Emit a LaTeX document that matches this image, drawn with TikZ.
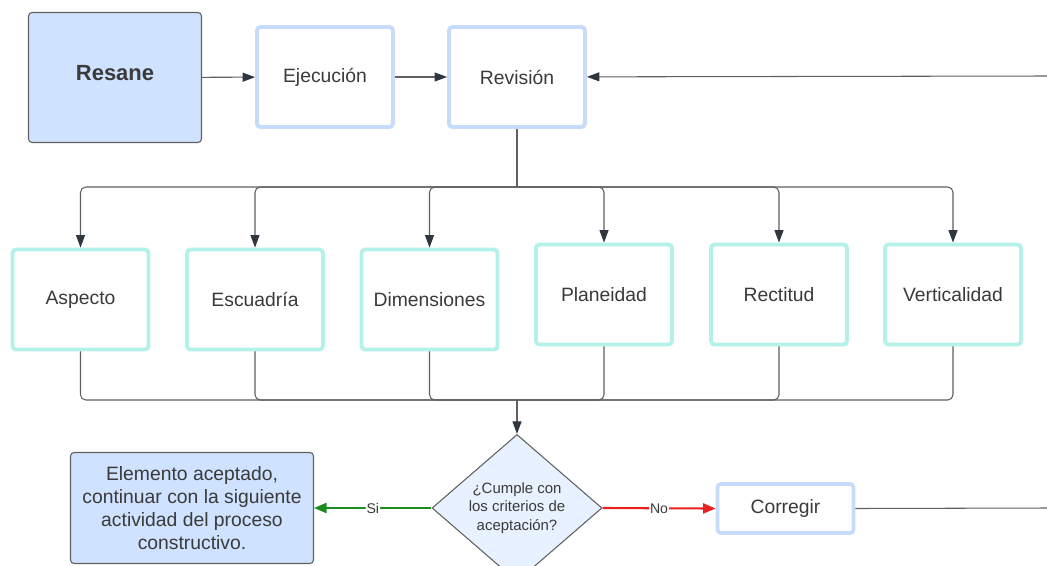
\documentclass[tikz,border=0pt]{standalone}
\usepackage{fontspec}
\setmainfont{Liberation Sans}
\usepackage{tikz}
\usetikzlibrary{shapes.geometric,arrows.meta}

\definecolor{fillblue}{HTML}{CFE2FF}
\definecolor{edgeblue}{HTML}{C7DCFC}
\definecolor{edgeteal}{HTML}{B4F1E8}
\definecolor{decfill}{HTML}{E8F1FF}
\definecolor{textgray}{HTML}{3A3A3A}
\definecolor{linegray}{HTML}{606060}
\definecolor{tipgray}{HTML}{2F3640}
\definecolor{sigreen}{HTML}{1C8C1C}
\definecolor{nored}{HTML}{E82020}

\begin{document}
\begin{tikzpicture}[x=0.02cm, y=-0.02cm,
    every node/.style={text=textgray, font=\fontsize{11}{13}\selectfont},
    startbox/.style={draw=linegray, line width=0.6pt, fill=fillblue, rounded corners=2pt,
        minimum width=3.46cm, minimum height=2.6cm, inner sep=0pt},
    stepbox/.style={draw=edgeblue, line width=2.2pt, fill=white, rounded corners=2pt,
        minimum width=2.72cm, minimum height=2.0cm, inner sep=0pt},
    checkbox/.style={draw=edgeteal, line width=2.2pt, fill=white, rounded corners=2pt,
        minimum width=2.72cm, minimum height=2.0cm, inner sep=0pt},
    decision/.style={diamond, draw=linegray, line width=0.6pt, fill=decfill, inner sep=0pt,
        minimum width=3.4cm, minimum height=2.4cm, align=center,
        font=\fontsize{8.5}{10.5}\selectfont},
    link/.style={draw=linegray, line width=0.6pt, rounded corners=3pt},
    arrow/.style={link, -{Triangle[length=2.5mm, width=1.8mm, color=tipgray]}},
    answer/.style={fill=white, inner sep=0.5pt, font=\fontsize{8}{9}\selectfont}
]
    \useasboundingbox (0,0) rectangle (1047,565);

    % Top row
    \node[startbox, font=\fontsize{12.5}{14}\selectfont\bfseries, text depth=5pt] (res) at (115,77.5) {Resane};
    \node[stepbox] (eje) at (325,77) {Ejecución};
    \node[stepbox] (rev) at (517,77) {Revisión};
    \coordinate (back) at (1047,76);

    \draw[arrow] (res) -- (eje);
    \draw[arrow] (eje) -- (rev);
    \draw[arrow] (back) -- (rev);

    % Checks
    \node[checkbox] (asp) at (80.5,299.5) {Aspecto};
    \node[checkbox] (esc) at (255,299.5) {Escuadría};
    \node[checkbox] (dim) at (429.5,299.5) {Dimensiones};
    \node[checkbox] (pla) at (604,294.5) {Planeidad};
    \node[checkbox] (rec) at (779,294.5) {Rectitud};
    \node[checkbox] (ver) at (953,294.5) {Verticalidad};

    \coordinate (split) at (517,187);
    \coordinate (join) at (517,400);
    \draw[link] (rev.south) -- (split);
    \foreach \n in {asp,esc,dim,pla,rec,ver} {
        \draw[arrow] (split) -| (\n.north);
        \draw[link] (\n.south) |- (join);
    }

    % Decision
    \node[decision] (dec) at (517,508) {¿Cumple con\\los criterios de\\aceptación?};
    \draw[arrow] (join) -- (dec.north);

    \node[startbox, minimum width=4.86cm, minimum height=2.22cm, align=center]
        (ok) at (192,508) {Elemento aceptado,\\continuar con la siguiente\\actividad del proceso\\constructivo.};
    \node[stepbox, minimum height=0.98cm] (cor) at (785.5,508.5) {Corregir};
    \coordinate (out) at (1047,508);

    \draw[arrow, draw=sigreen, line width=1.2pt, -{Triangle[length=2.5mm, width=2mm, fill=sigreen]}]
        (dec.west) -- node[answer, pos=0.5] {Si} (ok.east);
    \draw[arrow, draw=nored, line width=1.2pt, -{Triangle[length=2.5mm, width=2mm, fill=nored]}]
        (dec.east) -- node[answer, pos=0.5] {No} (cor.west);
    \draw[link] (cor.east) -- (out);
\end{tikzpicture}
\end{document}
